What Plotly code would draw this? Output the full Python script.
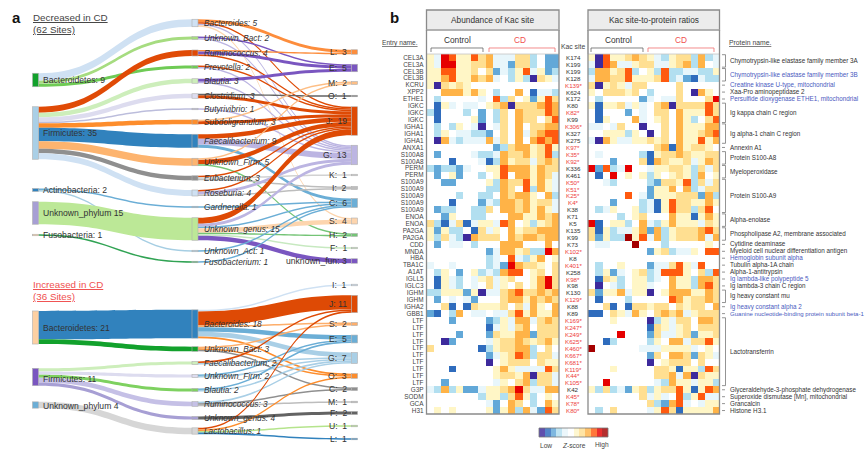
import plotly.graph_objects as go

W, H = 865, 452

# ---------- panel b data (z-score levels; "." = 0, a..e = -1..-5, digits = positive) ----------
ENTRY = ["CEL3A","CEL3A","CEL3B","CEL3B","KCRU","XPP2","ETHE1","IGKC","IGKC","IGKC","IGHA1","IGHA1","IGHA1","ANXA1",
         "S100A8","S100A8","PERM","PERM","S100A9","S100A9","S100A9","S100A9","S100A9","ENOA","ENOA","PA2GA","PA2GA",
         "CDD","MNDA","HBA","TBA1C","A1AT","IGLL5","IGLC3","IGHM","IGHM","IGHA2","GBB1","LTF","LTF","LTF","LTF","LTF",
         "LTF","LTF","LTF","LTF","LTF","G3P","SODM","GCA","H31"]
KAC = ["K174","K199","K199","K128","K139*","K624","K172","K80","K82*","K99","K306*","K327","K275","K97*","K35*","K92*",
       "K336","K461","K50*","K51*","K25*","K4*","K38","K71","K5","K135","K99","K73","K102*","K8","K401*","K258","K98*",
       "K98","K130","K129*","K88","K89","K169*","K247*","K249*","K625*","K460*","K667*","K681*","K119*","K44*","K105*",
       "K42","K45*","K78*","K80*"]
ABUNDANCE = [
"1a5411423aaa22b.cc","1a5511223aac22b.cc","1144112.2cab14a1cb","113411323a.b1be21a","1e2121............",
"..333131.b..3.daab",".b.....a.4b2.1c142",".d1a.aa.123e222343","bd...b.c.b2.322243",".d....1c.b2.322.24",
".b.b1.ae.a2.3.2233",".b1.aabbc.2.3a2344",".e3abaaa3a2.3.3434",".........cb2331241",".c....abba3223124b",
"...d...adb3122a232","bcbbca..1143331322",".c.1c..b.14.33132a","..cc....1b3224131a","........bb32.4b31a",
"....b..bb.32331.3b","...d...cab3323122a",".cbb..bb2.3323131a","..c1..bb...3311323","2bda2da11a43.1b123",
"1c1bb.d2a1.3122333","1b2abe3222.3233233",".c.aa.b...333...3.","........ca3312bb53","........ba.4ab13.1",
"a..a....bac53221.2",".b1.c.1bab344.12.2",".d1ab.a12a12..1352",".d1ab.a.2a1.2.1352","bb111c1eaa23422323",
".c.a.ac...23313232","..2d.d21112.2a31.3","cd.b3.aa.aa2413113","...c....cb1a33a232","........da1a23.222",
"....c...c21133c222","..ec....a122321231","2......db12233b.2.","........ca1243b22a","........e.1222.211",
"...d.....131aaaa42",".........12213e22a","..c......a1.23b22a","ab3b1cca112352aa33",".......b11b241b.1.",
"........ac.32.b.31",".1.1....1c13b3ac42"]
RATIO = [
"1e4112321ab122b3ba","ae43aa122aa123b3.a","b33124b.1b4bbaabb1","a3322411124bacdabb","2e121a22....2.....",
"1.22212.b...2.e31.",".b.....ca.aa2...25","1d112a1a.23e222242",".d...c.a.22.311142",".d1...3a.12.31b.24",
"aa.a2..e..2.311133","..111b1.e.2.311234","ae31aa11212.311413",".........23d31221.",".a.....bd122321122",
"...c...2d32112a132","5c4ba5..a11221b2a2",".d.5.1.1b1.121b3.1","..ab....bc2214b2a2","........c113.3ba22",
".....4.ac111222c3b","...c...bad14221131",".ba1..1bad1422b24.","....b.12...311d131","5d.11b.3ab13111a21",
"2d1baa13c3b1222342","2c1bb614a3b12223a3",".aa...6...b.....1.","........c12baa1.44","..................",
".b..1...caa241a4..",".b1ca.12ba4441.2b4",".d21b.11ba.311b332",".e.ab.11a..311b342","2c113a11e.13331132",
".d...b.....4312232","..2d.d22122.2122.3","dd.21a31.2323a1222","...1....eb1a22.332","........d21a12.222",
"....5...c2aa12c112","..db....b1.33a2241","6......aaa1111a.1.","........c2.332c21a","........e.1222.2..",
"...1.....221d11b42",".........223a3e211","..5......ab311a11b","1b2bac12b12241d143",".......2a1a.4b14aa",
"........2bc34a.a11",".b.2....a142d11113"]
PROTEINS = [(0,1,"Chymotrypsin-like elastase family member 3A",0),(2,3,"Chymotrypsin-like elastase family member 3B",1),
 (4,4,"Creatine kinase U-type, mitochondrial",1),(5,5,"Xaa-Pro aminopeptidase 2",0),
 (6,6,"Persulfide dioxygenase ETHE1, mitochondrial",1),(7,9,"Ig kappa chain C region",0),(10,12,"Ig alpha-1 chain C region",0),
 (13,13,"Annexin A1",0),(14,15,"Protein S100-A8",0),(16,17,"Myeloperoxidase",0),(18,22,"Protein S100-A9",0),
 (23,24,"Alpha-enolase",0),(25,26,"Phospholipase A2, membrane associated",0),(27,27,"Cytidine deaminase",0),
 (28,28,"Myeloid cell nuclear differentiation antigen",0),(29,29,"Hemoglobin subunit alpha",1),(30,30,"Tubulin alpha-1A chain",0),
 (31,31,"Alpha-1-antitrypsin",0),(32,32,"Ig lambda-like polypeptide 5",1),(33,33,"Ig lambda-3 chain C region",0),
 (34,35,"Ig heavy constant mu",0),(36,36,"Ig heavy constant alpha 2",1),(37,37,"Guanine nucleotide-binding protein subunit beta-1",1),
 (38,47,"Lactotransferrin",0),(48,48,"Glyceraldehyde-3-phosphate dehydrogenase",0),(49,49,"Superoxide dismutase [Mn], mitochondrial",0),
 (50,50,"Grancalcin",0),(51,51,"Histone H3.1",0)]
LEVELS = [-5,-4,-3,-2,-1,0,1,2,3,4,5,6]

# ---------- panel a data ----------
TOP_NODES = ["Bacteroidetes","Firmicutes","Actinobacteria","Unknown_phylum","Fusobacteria",
 "Bacteroides","Unknown_Bact","Ruminococcus","Prevotella","Blautia","Clostridium","Butyrivibrio","Subdoligranulum",
 "Faecalibacterium","Unknown_Firm","Eubacterium","Roseburia","Gardnerella","Unknown_genus","Unknown_Act","Fusobacterium",
 "L","E","M","O","J","G","K","I","C","S","H","F","unknown_fun"]
TOP_LINKS = [
 ("Bacteroidetes","Bacteroides",5),("Bacteroidetes","Unknown_Bact",2),("Bacteroidetes","Prevotella",2),
 ("Firmicutes","Ruminococcus",4),("Firmicutes","Blautia",3),("Firmicutes","Clostridium",3),("Firmicutes","Butyrivibrio",1),
 ("Firmicutes","Subdoligranulum",3),("Firmicutes","Faecalibacterium",9),("Firmicutes","Unknown_Firm",5),
 ("Firmicutes","Eubacterium",3),("Firmicutes","Roseburia",4),("Actinobacteria","Gardnerella",1),("Actinobacteria","Unknown_Act",1),
 ("Unknown_phylum","Unknown_genus",15),("Fusobacteria","Fusobacterium",1),
 ("Bacteroides","L",2),("Bacteroides","J",1),("Bacteroides","G",1),("Bacteroides","S",1),
 ("Unknown_Bact","E",1),("Unknown_Bact","G",1),("Ruminococcus","L",1),("Ruminococcus","E",2),("Ruminococcus","J",1),
 ("Prevotella","J",1),("Prevotella","G",1),("Blautia","E",2),("Blautia","G",1),("Clostridium","J",2),("Clostridium","O",1),
 ("Butyrivibrio","G",1),("Subdoligranulum","J",2),("Subdoligranulum","M",1),("Faecalibacterium","J",3),("Faecalibacterium","G",4),
 ("Faecalibacterium","C",2),("Unknown_Firm","J",3),("Unknown_Firm","M",1),("Unknown_Firm","H",1),("Eubacterium","J",1),
 ("Eubacterium","K",1),("Eubacterium","I",1),("Roseburia","G",2),("Roseburia","J",1),("Roseburia","I",1),("Gardnerella","C",1),
 ("Unknown_genus","J",4),("Unknown_genus","G",2),("Unknown_genus","C",1),("Unknown_genus","S",3),("Unknown_genus","H",1),
 ("Unknown_genus","F",1),("Unknown_genus","unknown_fun",3),("Unknown_Act","C",1),("Fusobacterium","C",1)]
BOT_NODES = ["Bacteroidetes","Firmicutes","Unknown_phylum",
 "Bacteroides","Unknown_Bact","Faecalibacterium","Unknown_Firm","Blautia","Ruminococcus","Unknown_genus","Lactobacillus",
 "I","J","S","E","G","O","C","M","F","U","L"]
BOT_LINKS = [
 ("Bacteroidetes","Bacteroides",18),("Bacteroidetes","Unknown_Bact",3),("Firmicutes","Faecalibacterium",2),("Firmicutes","Unknown_Firm",2),
 ("Firmicutes","Blautia",2),("Firmicutes","Ruminococcus",3),("Firmicutes","Unknown_genus",2),("Unknown_phylum","Lactobacillus",4),
 ("Bacteroides","I",1),("Bacteroides","J",9),("Bacteroides","S",1),("Bacteroides","E",3),("Bacteroides","G",3),("Bacteroides","O",1),
 ("Unknown_Bact","S",1),("Unknown_Bact","O",1),("Unknown_Bact","C",1),("Faecalibacterium","J",1),("Faecalibacterium","G",1),
 ("Unknown_Firm","E",1),("Unknown_Firm","G",1),("Blautia","E",1),("Blautia","G",1),("Ruminococcus","G",1),("Ruminococcus","C",1),
 ("Ruminococcus","M",1),("Unknown_genus","F",2),("Lactobacillus","J",1),("Lactobacillus","O",1),("Lactobacillus","U",1),("Lactobacillus","L",1)]
TOP_LABELS = ["Bacteroidetes: 9","Firmicutes: 35","Actinobacteria: 2","Unknown_phylum 15","Fusobacteria: 1",
 "Bacteroides: 5","Unknown_Bact: 2","Ruminococcus: 4","Prevotella: 2","Blautia: 3","Clostridium: 3","Butyrivibrio: 1","Subdoligranulum: 3",
 "Faecalibacterium: 9","Unknown_Firm: 5","Eubacterium: 3","Roseburia: 4","Gardnerella: 1","Unknown_genus: 15","Unknown_Act: 1","Fusobacterium: 1",
 "L:  3","E:  5","M:  2","O:  1","J:  19","G:  13","K:  1","I:  2","C:  6","S:  4","H:  2","F:  1","unknown_fun: 3"]
BOT_LABELS = ["Bacteroidetes: 21","Firmicutes: 11","Unknown_phylum 4",
 "Bacteroides: 18","Unknown_Bact: 3","Faecalibacterium: 2","Unknown_Firm: 2","Blautia: 2","Ruminococcus: 3","Unknown_genus: 4","Lactobacillus: 1",
 "I:  1","J: 11","S:  2","E:  5","G:  7","O:  3","C:  2","M:  1","F:  2","U:  1","L:  1"]

# ---------- layout / style (pixels of the 865x452 page) ----------
TOP_Y = [80,133,190,213,235, 23,38,53,67,81,96,109,122,141,162,178,193,207,229,251,262, 52,68,83,96,121,155,175,188,203,221,235,248,261]
BOT_Y = [327.5,377,405, 324,349,363,376,390,404,418,431, 285,304,324,339,358,376,389,402,413,426,439]
BOT_LEFT_LABEL_SHIFT = [0, 2, 1]
COL_PX = [35.5, 195, 354.5]
TOP_BOX, BOT_BOX = (15, 270), (278, 448)
SK_X0, SK_X1 = 30, 360
ROW_PX = (54, 414)
P1, P2 = (426.5, 559), (588, 719.5)

LV = ['#3d2a9c','#2f6cbd','#62a8d8','#b2dff0','#e8f6fb','#ffffff','#fff6c6','#ffdf91','#ffb347','#ff5a0f','#e60000','#a50000']
COLORSCALE = []
for i, c in enumerate(LV):
    COLORSCALE += [[i/12, c], [(i+1)/12, c]]

TOP_NODE_COL = {"Bacteroidetes":"#12a12c","Firmicutes":"#a9cfe6","Actinobacteria":"#3182bd","Unknown_phylum":"#a79fd4","Fusobacteria":"#fdd0a2",
 "Bacteroides":"#cfe1f3","Unknown_Bact":"#a6dc80","Ruminococcus":"#e04a06","Prevotella":"#6fcb55","Blautia":"#cdeebb","Clostridium":"#dddcef",
 "Butyrivibrio":"#bcbddc","Subdoligranulum":"#fd8d2c","Faecalibacterium":"#3182bd","Unknown_Firm":"#fdb46f","Eubacterium":"#8f8f8f",
 "Roseburia":"#cfe1f3","Gardnerella":"#6baed6","Unknown_genus":"#bce897","Unknown_Act":"#a6cee3","Fusobacterium":"#31a354",
 "L":"#fd8d3c","E":"#7a56c0","M":"#fdbe85","O":"#636363","J":"#de4a05","G":"#bcb5e2","K":"#d2d2d2","I":"#bdbdbd","C":"#6baed6",
 "S":"#fdd5ae","H":"#74c476","F":"#c7e9c0","unknown_fun":"#7a56c0"}
BOT_NODE_COL = {"Bacteroidetes":"#fdd0a2","Firmicutes":"#7a56c0","Unknown_phylum":"#6baed6",
 "Bacteroides":"#3182bd","Unknown_Bact":"#12a12c","Faecalibacterium":"#cdeebb","Unknown_Firm":"#dddcef","Blautia":"#7ed160",
 "Ruminococcus":"#c5c0e6","Unknown_genus":"#a79fd4","Lactobacillus":"#d6d6d6",
 "I":"#cfe1f3","J":"#de4a05","S":"#fdae6b","E":"#6baed6","G":"#a9cfe6","O":"#fd8d2c","C":"#8f8f8f","M":"#bdbdbd","F":"#636363","U":"#b5e48c","L":"#3182bd"}

def sankey(nodes, links, ys, box, colors):
    idx = {n: i for i, n in enumerate(nodes)}
    srcs = {a for a, b, v in links}
    tgts = {b for a, b, v in links}
    xs = []
    for n in nodes:
        col = 0 if n not in tgts else (2 if n not in srcs else 1)
        xs.append((COL_PX[col]-SK_X0)/(SK_X1-SK_X0))
    h = box[1]-box[0]
    total = sum(v for a, b, v in links if a not in tgts)
    maxn = max(sum(1 for n in nodes if n in srcs and n in tgts), sum(1 for n in nodes if n not in srcs))
    pad = (h-1.5*total)/(maxn-1)
    return go.Sankey(
        domain=dict(x=[SK_X0/W, SK_X1/W], y=[1-box[1]/H, 1-box[0]/H]),
        arrangement="fixed", hoverinfo="skip",
        node=dict(label=[""]*len(nodes), x=xs, y=[(y-box[0])/h for y in ys], pad=pad, thickness=6,
                  color=[colors[n] for n in nodes], line=dict(color="#b0b0b0", width=0.6), hoverinfo="skip"),
        link=dict(source=[idx[a] for a, b, v in links], target=[idx[b] for a, b, v in links],
                  value=[v for a, b, v in links],
                  color=[colors[b] for a, b, v in links], hoverinfo="skip"))

def decode(rows):
    m = {".":0,"a":-1,"b":-2,"c":-3,"d":-4,"e":-5}
    return [[m[c] if c in m else int(c) for c in r] for r in rows]

fig = go.Figure()
fig.add_trace(sankey(TOP_NODES, TOP_LINKS, TOP_Y, TOP_BOX, TOP_NODE_COL))
fig.add_trace(sankey(BOT_NODES, BOT_LINKS, BOT_Y, BOT_BOX, BOT_NODE_COL))
hm = dict(colorscale=COLORSCALE, zmin=-5.5, zmax=6.5, showscale=False, hoverinfo="skip")
fig.add_trace(go.Heatmap(z=decode(ABUNDANCE), xaxis="x", yaxis="y", **hm))
fig.add_trace(go.Heatmap(z=decode(RATIO), xaxis="x2", yaxis="y2", **hm))
fig.add_trace(go.Heatmap(z=[LEVELS], xaxis="x3", yaxis="y3", opacity=0.82, **hm))

def dom_x(a, b): return [a/W, b/W]
def dom_y(a, b): return [1-b/H, 1-a/H]
hide = dict(showgrid=False, zeroline=False, showticklabels=False, ticks="", fixedrange=True)
yrange = [51.5, -0.5]
fig.update_layout(
    width=W, height=H, margin=dict(l=0, r=0, t=0, b=0), paper_bgcolor="white", plot_bgcolor="white", showlegend=False,
    font=dict(family="Liberation Sans, Arial, sans-serif", color="#333"),
    xaxis=dict(domain=dom_x(*P1), range=[-0.5, 17.5], anchor="y", **hide),
    yaxis=dict(domain=dom_y(*ROW_PX), range=yrange, anchor="x", showgrid=False, zeroline=False, ticks="", fixedrange=True,
               tickmode="array", tickvals=list(range(52)), ticktext=ENTRY, tickfont=dict(size=6.4, color="#444"), ticklabelstandoff=2),
    xaxis2=dict(domain=dom_x(*P2), range=[-0.5, 17.5], anchor="y2", **hide),
    yaxis2=dict(domain=dom_y(*ROW_PX), range=yrange, anchor="x2", **hide),
    xaxis3=dict(domain=dom_x(539, 608), range=[-0.5, 11.5], anchor="y3", **hide),
    yaxis3=dict(domain=dom_y(428, 437), range=[-0.5, 0.5], anchor="x3", **hide),
)

anns, shapes = [], []
def txt(px, py, s, size=9, color="#333", anchor="left", **kw):
    anns.append(dict(text=s, xref="paper", yref="paper", x=px/W, y=1-py/H, xanchor=anchor, yanchor="middle",
                     showarrow=False, font=dict(size=size, color=color), borderpad=0, **kw))
def rect(x0, y0, x1, y1, line="#8a8a8a", width=1.3, fill=None):
    shapes.append(dict(type="rect", xref="paper", yref="paper", x0=x0/W, x1=x1/W, y0=1-y0/H, y1=1-y1/H,
                       line=dict(color=line, width=width), fillcolor=fill, layer="above" if fill is None else "below"))
def seg(pts, color="#666", width=0.8):
    p = "M " + " L ".join(f"{x/W:.5f} {1-y/H:.5f}" for x, y in pts)
    shapes.append(dict(type="path", xref="paper", yref="paper", path=p, line=dict(color=color, width=width)))

# panel a text
txt(11, 18, "<b>a</b>", size=15, color="#111")
txt(389, 18, "<b>b</b>", size=15, color="#111")
txt(32, 18, "<u>Decreased in CD</u>", size=9.8, color="#444")
txt(32, 30, "<u>(62 Sites)</u>", size=9.8, color="#444")
txt(32, 284, "<u>Increased in CD</u>", size=9.8, color="#f05050")
txt(32, 296, "<u>(36 Sites)</u>", size=9.8, color="#f05050")

for i, (s, y) in enumerate(zip(TOP_LABELS, TOP_Y)):
    if i < 5:
        txt(42, y, s, size=8.6)
    elif i < 21:
        txt(203, y, "<i>" + s + "</i>", size=8.3)
    else:
        txt(348, y, s.replace("  ", "\u00a0\u00a0"), size=8.6, anchor="right")
for i, (s, y) in enumerate(zip(BOT_LABELS, BOT_Y)):
    if i < 3:
        txt(42, y + BOT_LEFT_LABEL_SHIFT[i], s, size=8.6)
    elif i < 11:
        txt(203, y, "<i>" + s + "</i>", size=8.3)
    else:
        txt(348, y, s.replace("  ", "\u00a0\u00a0"), size=8.6, anchor="right")

# panel b frames, headers, brackets
for (x0, x1), title, c0, c1, b0, b1 in [
    (P1, "Abundance of Kac site", 458, 520, (431, 483), (489, 555)),
    (P2, "Kac site-to-protein ratios", 618, 681, (591, 643), (648, 714))]:
    rect(x0, 30, x1, 54, line="#c4c4c4", width=0.8)
    rect(x0, 10, x1, 30, fill="#ececec", line="#8a8a8a", width=1.3)
    txt((x0+x1)/2, 20, title, size=8.3, anchor="center")
    txt(c0, 40, "Control", size=8.3, anchor="center")
    txt(c1, 40, "CD", size=8.3, color="#f05050", anchor="center")
    seg([(b0[0], 52), (b0[0], 48), (b0[1], 48), (b0[1], 52)], color="#666")
    seg([(b1[0], 52), (b1[0], 48), (b1[1], 48), (b1[1], 52)], color="#f07070")
    seg([(x0, 30), (x0, 414), (x1, 414), (x1, 30)], color="#8a8a8a", width=1.3)

txt(381, 43, "<u>Entry name.</u>", size=6.6, color="#444")
txt(573, 46, "Kac site", size=6.8, anchor="center", color="#444")
txt(728, 43, "<u>Protein name.</u>", size=6.8, color="#444")

for i, k in enumerate(KAC):
    anns.append(dict(text=k, xref="paper", yref="y", x=573/W, y=i, xanchor="center", yanchor="middle", showarrow=False,
                     font=dict(size=6.2, color="#ee4040" if k.endswith("*") else "#333")))
for a, b, name, blue in PROTEINS:
    col = "#4a5ac0" if blue else "#333"
    anns.append(dict(text=name, xref="paper", yref="y", x=728/W, y=(a+b)/2, xanchor="left", yanchor="middle", showarrow=False,
                     font=dict(size=6.05 if len(name) > 45 else 6.3, color=col)))
    if a == b:
        shapes.append(dict(type="line", xref="paper", yref="y", x0=722/W, x1=725/W, y0=a, y1=a, line=dict(color="#666", width=0.7)))
    else:
        shapes.append(dict(type="path", xref="paper", yref="y",
                           path=f"M {722/W:.5f} {a-0.4} L {725.5/W:.5f} {a-0.4} L {725.5/W:.5f} {b+0.4} L {722/W:.5f} {b+0.4}",
                           line=dict(color="#666", width=0.7)))

rect(539, 428, 608, 437, line="#777", width=0.8)
txt(546, 445, "Low", size=6.6, anchor="center", color="#444")
txt(574, 445, "<i>Z</i>-score", size=6.6, anchor="center", color="#444")
txt(602, 445, "High", size=6.6, anchor="center", color="#444")

fig.update_layout(annotations=anns, shapes=shapes)
fig.write_html("out.html", config={"displayModeBar": False}, post_script="document.body.style.margin='0';")
